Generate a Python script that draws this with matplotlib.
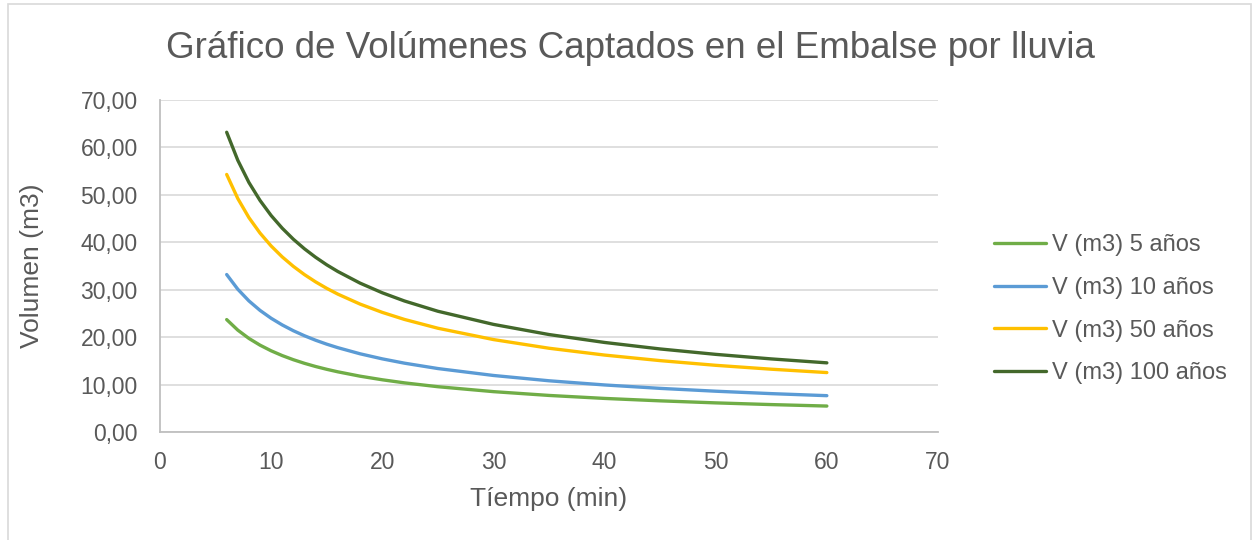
import matplotlib.pyplot as plt
from matplotlib.patches import Rectangle
from matplotlib.ticker import FuncFormatter

plt.rcParams['font.family'] = ['Liberation Sans', 'DejaVu Sans']

# tiempo (min) y volumen (m3) por periodo de retorno
tiempo = [6, 7, 8, 9, 10, 11, 12, 13, 14, 15, 16, 18, 20, 22, 25, 30, 35, 40, 45, 50, 55, 60]
v_5 = [23.70, 21.48, 19.73, 18.31, 17.12, 16.11, 15.24, 14.48, 13.81, 13.22, 12.69,
       11.77, 11.01, 10.36, 9.55, 8.51, 7.71, 7.08, 6.57, 6.14, 5.78, 5.47]
v_10 = [33.20, 30.10, 27.64, 25.64, 23.98, 22.57, 21.35, 20.29, 19.35, 18.52, 17.78,
        16.49, 15.42, 14.51, 13.38, 11.92, 10.80, 9.92, 9.20, 8.60, 8.09, 7.66]
v_50 = [54.30, 49.22, 45.20, 41.94, 39.22, 36.91, 34.92, 33.18, 31.65, 30.29, 29.07,
        26.97, 25.22, 23.73, 21.88, 19.49, 17.66, 16.22, 15.05, 14.06, 13.24, 12.53]
v_100 = [63.20, 57.29, 52.61, 48.82, 45.64, 42.96, 40.64, 38.62, 36.84, 35.25, 33.84,
         31.39, 29.35, 27.62, 25.46, 22.69, 20.55, 18.88, 17.51, 16.37, 15.41, 14.58]

series = [
    ("V (m3) 5 años", v_5, "#70AD47"),
    ("V (m3) 10 años", v_10, "#5B9BD5"),
    ("V (m3) 50 años", v_50, "#FFC000"),
    ("V (m3) 100 años", v_100, "#43682B"),
]

gris = "#595959"

fig = plt.figure(figsize=(12.55, 5.4), dpi=100)
ax = fig.add_axes([160 / 1255, 108 / 540, 778 / 1255, 332 / 540])

# marco exterior del gráfico
fig.patches.append(Rectangle((8 / 1255, -0.05), 1243 / 1255, 1.05 - 4 / 540,
                             transform=fig.transFigure, fill=False,
                             edgecolor="#D9D9D9", linewidth=1.2))

for nombre, valores, color in series:
    ax.plot(tiempo, valores, color=color, linewidth=2.4, label=nombre,
            solid_capstyle="round", solid_joinstyle="round")

ax.set_xlim(0, 70)
ax.set_ylim(0, 70)
ax.set_xticks(range(0, 71, 10))
ax.set_yticks(range(0, 71, 10))
ax.yaxis.set_major_formatter(FuncFormatter(lambda v, p: f"{v:.2f}".replace(".", ",")))
ax.tick_params(axis="both", length=0, labelsize=16.5, colors=gris)
ax.tick_params(axis="y", pad=16)
ax.tick_params(axis="x", pad=14)

ax.grid(axis="y", color="#D9D9D9", linewidth=1.2)
ax.set_axisbelow(True)
for lado in ["top", "right"]:
    ax.spines[lado].set_visible(False)
for lado in ["left", "bottom"]:
    ax.spines[lado].set_color("#BFBFBF")
    ax.spines[lado].set_linewidth(1.3)

ax.set_xlabel("Tíempo (min)", fontsize=19, color=gris, labelpad=9)
ax.set_ylabel("Volumen (m3)", fontsize=19, color=gris, labelpad=26)

fig.text(630 / 1255, 1 - 48 / 540, "Gráfico de Volúmenes Captados en el Embalse por lluvia",
         ha="center", va="center", fontsize=26.5, color=gris)

leg = ax.legend(loc="center left", bbox_to_anchor=(1.045, 0.37), frameon=False,
                fontsize=17, handlelength=2.2, handletextpad=0.25,
                labelspacing=0.88)
for t in leg.get_texts():
    t.set_color(gris)

fig.savefig("out.png", dpi=100)
